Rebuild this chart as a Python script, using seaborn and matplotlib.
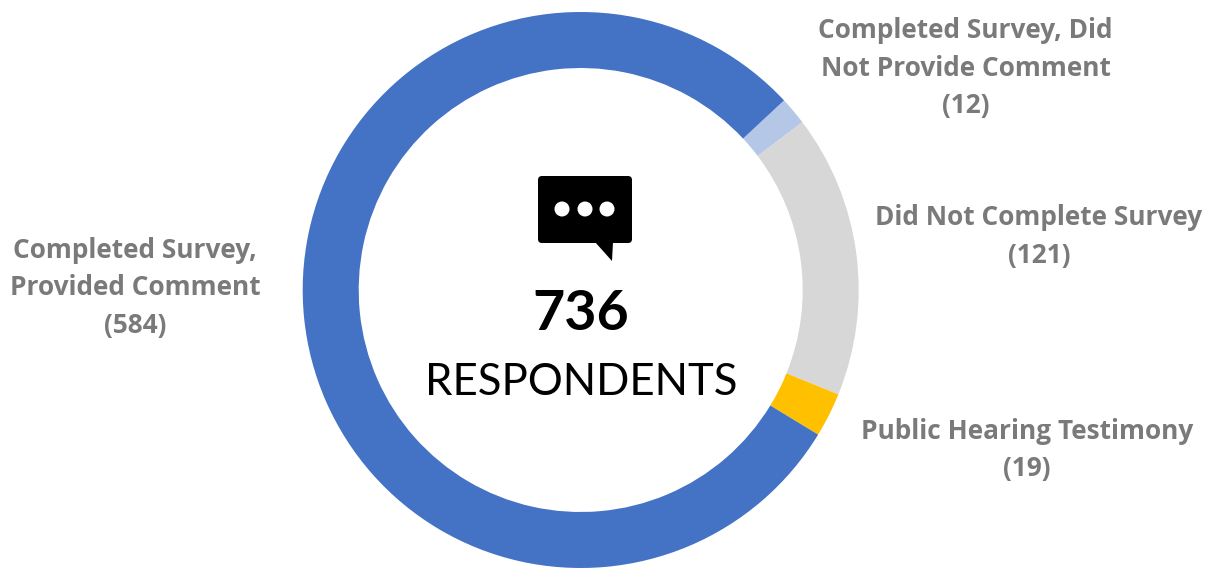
import matplotlib
matplotlib.use("Agg")
import matplotlib.pyplot as plt
from matplotlib.patches import FancyBboxPatch, Polygon, Circle
import seaborn as sns

# Respondent counts, clockwise from the top right of the ring
categories = ["Completed Survey, Did\nNot Provide Comment", "Did Not Complete Survey",
              "Public Hearing Testimony", "Completed Survey,\nProvided Comment"]
counts = [12, 121, 19, 584]
ring_colors = ["#B4C7E7", "#D7D7D7", "#FFC000", "#4472C4"]
total_label = "736"
total_caption = "RESPONDENTS"

W, H = 1211, 569
TEXT_GREY = "#7A7A7A"

sns.set_theme(style="white")
plt.rcParams["font.family"] = ["Open Sans", "DejaVu Sans"]

fig = plt.figure(figsize=(W / 100, H / 100), dpi=100, facecolor="white")

# Overlay in pixel coordinates for the labels and the speech-bubble icon
ov = fig.add_axes([0, 0, 1, 1], zorder=2)
ov.set_xlim(0, W)
ov.set_ylim(H, 0)
ov.axis("off")

# Ring
cx, cy, r = 580.7, 290, 278
ax = fig.add_axes([(cx - r) / W, 1 - (cy + r) / H, 2 * r / W, 2 * r / H], zorder=1)
ax.pie(counts, colors=ring_colors, startangle=43.0, counterclock=False, radius=1,
       wedgeprops=dict(width=56 / r, linewidth=0))
ax.set_xlim(-1, 1)
ax.set_ylim(-1, 1)
ax.set_aspect("equal")
ax.patch.set_alpha(0)

# Segment labels
label_style = dict(ha="center", va="center", color=TEXT_GREY, fontsize=18.9,
                   fontweight="bold", linespacing=1.5)
label_pos = [(965.5, 68), (1039, 236.5), (1027, 450), (135, 287.5)]
for name, n, (x, y) in zip(categories, counts, label_pos):
    ov.text(x, y, f"{name}\n({n})", **label_style)

# Speech-bubble icon
ov.add_patch(FancyBboxPatch((541, 179), 88, 61, boxstyle="round,pad=3,rounding_size=4",
                            fc="black", ec="none"))
ov.add_patch(Polygon([(595, 242), (613, 242), (612, 261)], fc="black", ec="none"))
for dot_x in (562, 585, 607):
    ov.add_patch(Circle((dot_x, 209), 7.5, fc="white", ec="none"))

# Centre total
ov.text(581, 314, total_label, ha="center", va="center", fontsize=40, fontweight="bold",
        color="black", family=["Lato", "DejaVu Sans"])
ov.text(581, 382, total_caption, ha="center", va="center", fontsize=31.5,
        color="black", family=["Lato", "DejaVu Sans"])

fig.savefig("out.png", dpi=100, facecolor="white")
